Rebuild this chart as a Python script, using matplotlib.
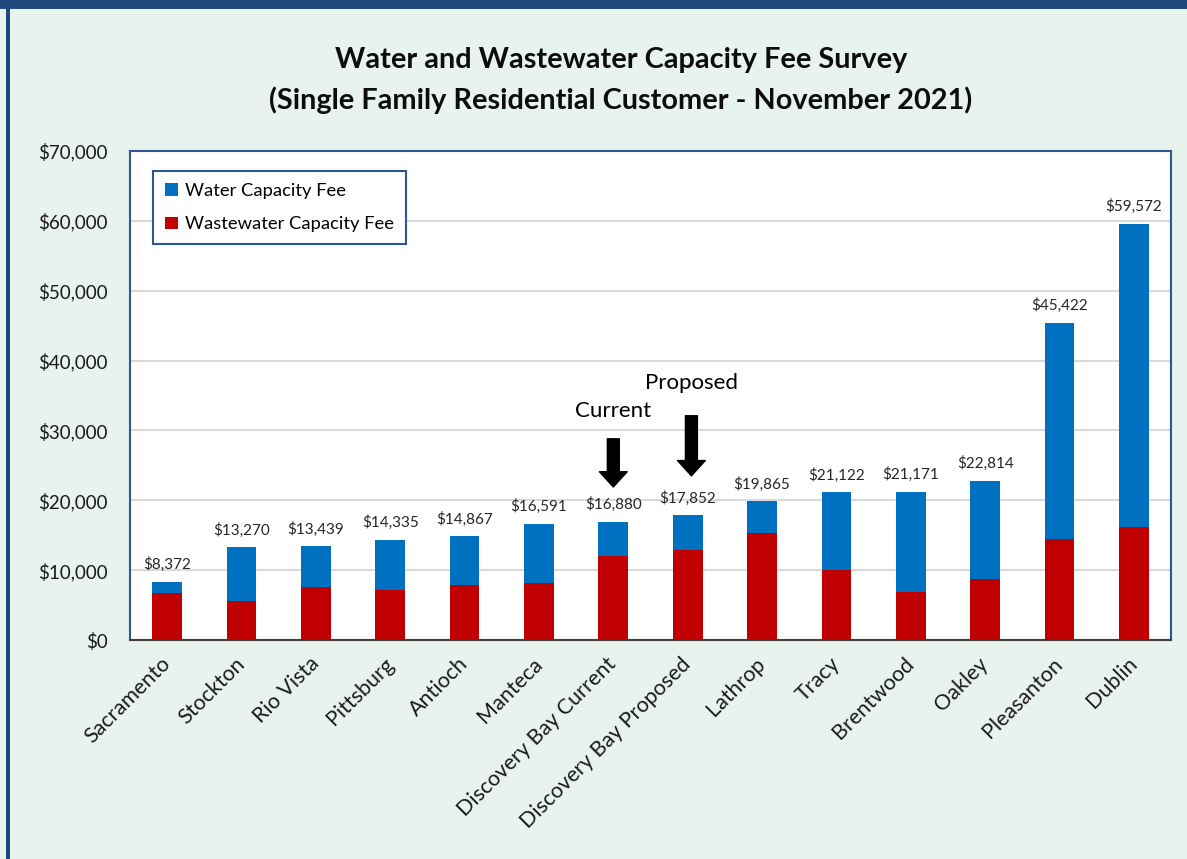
import matplotlib.pyplot as plt
from matplotlib.patches import Rectangle, Patch
from matplotlib.ticker import FuncFormatter

plt.rcParams['font.family'] = ['Lato', 'DejaVu Sans']

cities = ['Sacramento', 'Stockton', 'Rio Vista', 'Pittsburg', 'Antioch', 'Manteca',
          'Discovery Bay Current', 'Discovery Bay Proposed', 'Lathrop', 'Tracy',
          'Brentwood', 'Oakley', 'Pleasanton', 'Dublin']
wastewater_fee = [6700, 5600, 7600, 7150, 7850, 8100, 12000, 12900, 15350, 10000,
                  6900, 8700, 14450, 16200]
water_fee = [1672, 7670, 5839, 7185, 7017, 8491, 4880, 4952, 4515, 11122,
             14271, 14114, 30972, 43372]
total_fee = [8372, 13270, 13439, 14335, 14867, 16591, 16880, 17852, 19865, 21122,
             21171, 22814, 45422, 59572]

bg = '#E8F3EE'
navy = '#2F5597'
blue = '#0070C0'
red = '#C00000'

fig = plt.figure(figsize=(11.87, 8.59), dpi=100, facecolor=bg)
ax = fig.add_axes([130 / 1187, 1 - 640 / 859, 1041 / 1187, 489 / 859])

# frame decorations of the slide
fig.patches.append(Rectangle((0, 1 - 9 / 859), 1, 9 / 859, transform=fig.transFigure,
                             facecolor='#1F497D', edgecolor='none'))
fig.patches.append(Rectangle((6 / 1187, 0), 4 / 1187, 1, transform=fig.transFigure,
                             facecolor='#1F497D', edgecolor='none'))

x = range(len(cities))
ax.bar(x, wastewater_fee, width=0.4, color=red, zorder=3)
ax.bar(x, water_fee, width=0.4, bottom=wastewater_fee, color=blue, zorder=3)

for i, t in enumerate(total_fee):
    ax.annotate('${:,}'.format(t), (i, wastewater_fee[i] + water_fee[i]),
                xytext=(0, 7), textcoords='offset points', ha='center', va='bottom',
                fontsize=11, color='#262626')

ax.set_xlim(-0.5, len(cities) - 0.5)
ax.set_ylim(0, 70000)
ax.set_yticks(range(0, 70001, 10000))
ax.yaxis.set_major_formatter(FuncFormatter(lambda v, p: '${:,.0f}'.format(v)))
ax.grid(axis='y', color='#D9D9D9', linewidth=1.5, zorder=0)
ax.set_axisbelow(True)
ax.tick_params(axis='y', length=0, pad=16, labelsize=13.5, labelcolor='#1a1a1a')
ax.tick_params(axis='x', length=0, pad=15, labelsize=15.5, labelcolor='#1a1a1a')
ax.set_xticks(list(x))
ax.set_xticklabels(cities, rotation=45, ha='right', va='center', rotation_mode='anchor')

for s in ['left', 'top', 'right']:
    ax.spines[s].set_color(navy)
    ax.spines[s].set_linewidth(1.5)
ax.spines['bottom'].set_color('#404040')
ax.spines['bottom'].set_linewidth(1.5)

handles = [Patch(facecolor=blue, label='Water Capacity Fee'),
           Patch(facecolor=red, label='Wastewater Capacity Fee')]
leg = ax.legend(handles=handles, loc='upper left', bbox_to_anchor=(0.022, 0.959),
                borderaxespad=0, fancybox=False, fontsize=13.2, handlelength=0.7,
                handleheight=0.7, handletextpad=0.4, labelspacing=0.95,
                borderpad=0.65, framealpha=1)
leg.get_frame().set_edgecolor(navy)
leg.get_frame().set_linewidth(1.5)

# annotations with arrows
ax.text(6, 32800, 'Current', ha='center', va='center', fontsize=16,
        bbox=dict(facecolor='white', edgecolor='none', pad=6), zorder=4)
ax.text(7.05, 36800, 'Proposed', ha='center', va='center', fontsize=16,
        bbox=dict(facecolor='white', edgecolor='none', pad=6), zorder=4)
arrow = dict(arrowstyle='simple,head_length=0.55,head_width=1.0,tail_width=0.43',
             color='black', mutation_scale=20, shrinkA=0, shrinkB=0)
ax.annotate('', xy=(6, 21900), xytext=(6, 28800), arrowprops=arrow, zorder=5)
ax.annotate('', xy=(7.05, 23500), xytext=(7.05, 32100), arrowprops=arrow, zorder=5)

fig.text(0.523, 1 - 60 / 859, 'Water and Wastewater Capacity Fee Survey',
         ha='center', va='center', fontsize=20.8, fontweight='bold', color='#0d0d0d')
fig.text(0.523, 1 - 100 / 859, '(Single Family Residential Customer - November 2021)',
         ha='center', va='center', fontsize=20.8, fontweight='bold', color='#0d0d0d')

fig.savefig('out.png', dpi=100, facecolor=bg)
